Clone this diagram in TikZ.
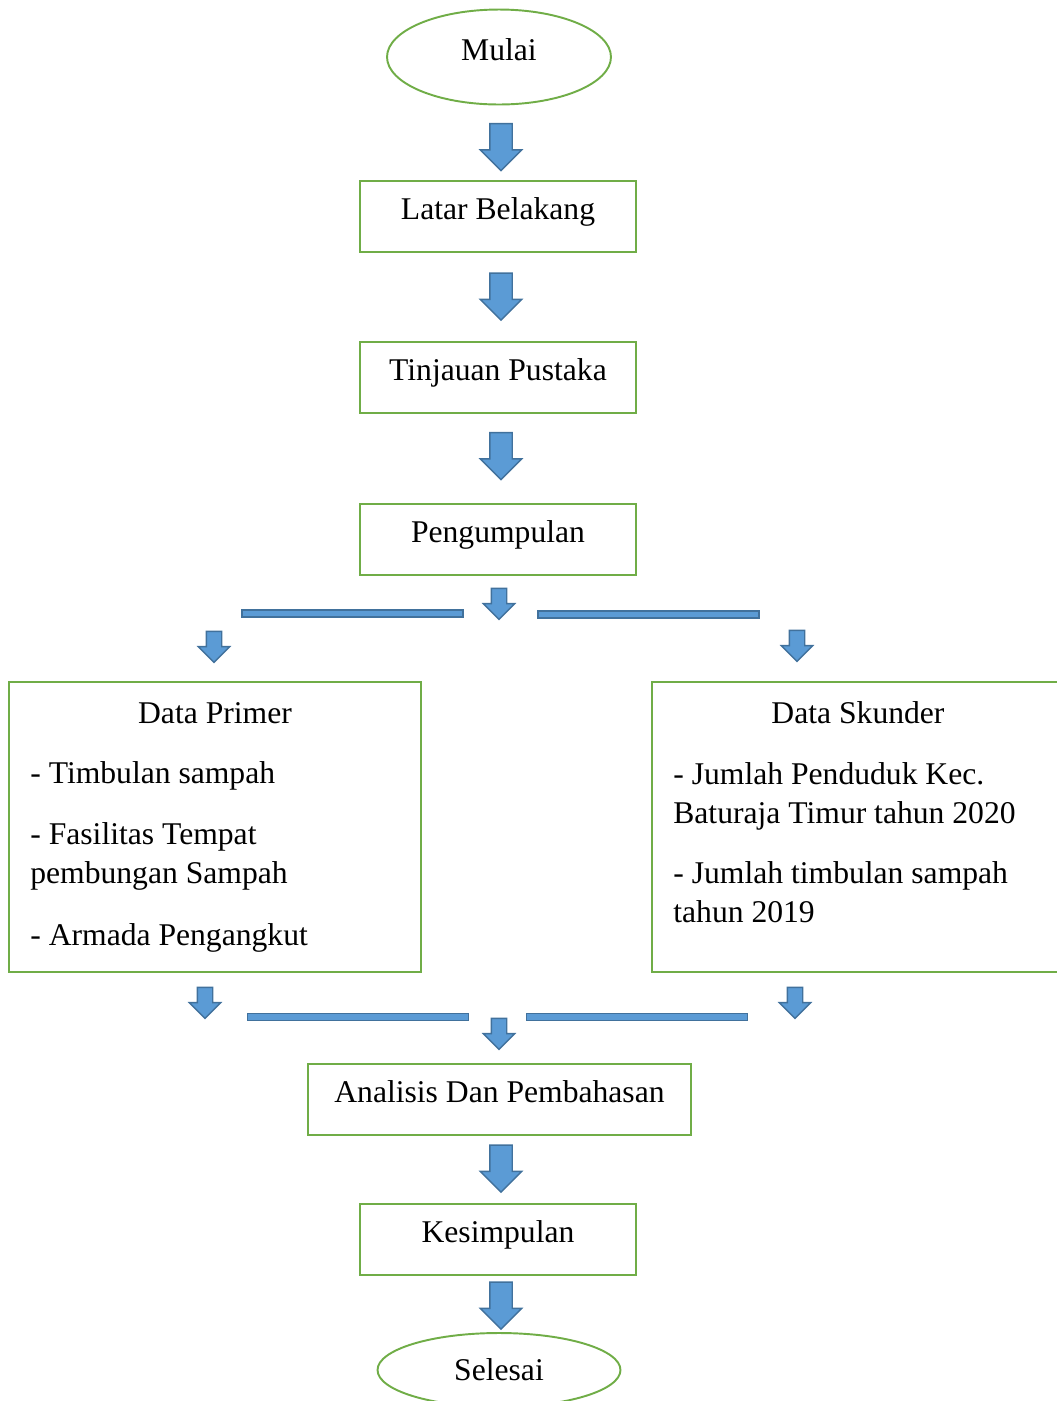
\documentclass[tikz,border=0pt]{standalone}
\usepackage{fontspec}
\setmainfont{Liberation Serif}
\usepackage{xcolor}
\definecolor{flowGreen}{RGB}{112, 173, 71}
\definecolor{flowBlue}{RGB}{91, 155, 213}
\definecolor{flowEdge}{RGB}{65, 113, 156}
\usetikzlibrary{shapes.geometric, shapes.arrows, positioning}

\begin{document}
\begin{tikzpicture}[
    x=0.02cm, y=-0.02cm,
    every node/.style={font=\fontsize{18}{22}\selectfont},
    raisedText/.style={text height=0.7em, text depth=0.33em},
    terminal/.style={
        ellipse, draw=flowGreen, line width=1.1pt,
        minimum width=4.48cm, minimum height=1.9cm, inner sep=0pt
    },
    process/.style={
        rectangle, draw=flowGreen, line width=1.1pt, raisedText,
        minimum width=5.52cm, minimum height=1.42cm, inner sep=0pt
    },
    dataBox/.style={
        rectangle, draw=flowGreen, line width=1.1pt,
        minimum width=8.24cm, minimum height=5.8cm, inner sep=0pt
    },
    itemText/.style={
        anchor=base west, align=left, inner sep=0pt,
        font=\fontsize{18}{22}\selectfont
    },
    bigArrow/.style={
        single arrow, rotate=-90, fill=flowBlue, draw=flowEdge, line width=0.8pt,
        inner sep=0.21cm, minimum height=0.94cm, minimum width=0.8cm,
        single arrow head extend=0.19cm, single arrow tip angle=90
    },
    smallArrow/.style={
        single arrow, rotate=-90, fill=flowBlue, draw=flowEdge, line width=0.8pt,
        inner sep=0.14cm, minimum height=0.62cm, minimum width=0.6cm,
        single arrow head extend=0.16cm, single arrow tip angle=90
    },
    splitBar/.style={
        rectangle, fill=flowBlue, draw=flowEdge, line width=0.8pt,
        minimum width=4.42cm, minimum height=0.14cm, inner sep=0pt
    }
]
    \useasboundingbox (0,0) rectangle (1057,1401);

    % Main column
    \node[terminal, raisedText] (mulai) at (499, 57) {Mulai};
    \node[bigArrow] (arrMulai) at (501, 141.5) {};
    \node[process] (latar) at (498, 216.5) {Latar Belakang};
    \node[bigArrow] (arrLatar) at (501, 291) {};
    \node[process] (tinjauan) at (498, 377.5) {Tinjauan Pustaka};
    \node[bigArrow] (arrTinjauan) at (501, 450.5) {};
    \node[process] (kumpul) at (498, 539.5) {Pengumpulan};

    % Split to both data boxes
    \node[smallArrow] (arrSplit) at (499, 600) {};
    \node[splitBar] (barTopL) at (352.5, 613.5) {};
    \node[splitBar] (barTopR) at (648.5, 614.5) {};
    \node[smallArrow] (arrPrimer) at (214, 643) {};
    \node[smallArrow] (arrSkunder) at (797, 642) {};

    % Data Primer
    \node[dataBox] (primer) at (215, 827) {};
    \node[anchor=base, inner sep=0pt] (primerTitle) at (215, 723) {Data Primer};
    \node[itemText] (primerA) at (30, 783) {- Timbulan sampah};
    \node[itemText] (primerB) at (30, 883) {- Fasilitas Tempat\\pembungan Sampah};
    \node[itemText] (primerC) at (30, 945) {- Armada Pengangkut};

    % Data Skunder
    \node[dataBox] (skunder) at (858, 827) {};
    \node[anchor=base, inner sep=0pt] (skunderTitle) at (858, 723) {Data Skunder};
    \node[itemText] (skunderA) at (673, 823) {- Jumlah Penduduk Kec.\\Baturaja Timur tahun 2020};
    \node[itemText] (skunderB) at (673, 922) {- Jumlah timbulan sampah\\tahun 2019};

    % Merge into analysis
    \node[smallArrow] (arrPrimerOut) at (205, 999) {};
    \node[smallArrow] (arrSkunderOut) at (795, 999) {};
    \node[splitBar] (barBotL) at (358, 1017) {};
    \node[splitBar] (barBotR) at (637, 1017) {};
    \node[smallArrow] (arrMerge) at (499, 1030) {};

    \node[process, minimum width=7.66cm] (analisis) at (499.5, 1099.5) {Analisis Dan Pembahasan};
    \node[bigArrow] (arrAnalisis) at (501, 1163) {};
    \node[process] (simpul) at (498, 1239.5) {Kesimpulan};
    \node[bigArrow] (arrSimpul) at (501, 1300) {};
    \node[terminal, minimum width=4.86cm, minimum height=1.48cm] (selesai) at (499, 1370) {Selesai};

\end{tikzpicture}
\end{document}
